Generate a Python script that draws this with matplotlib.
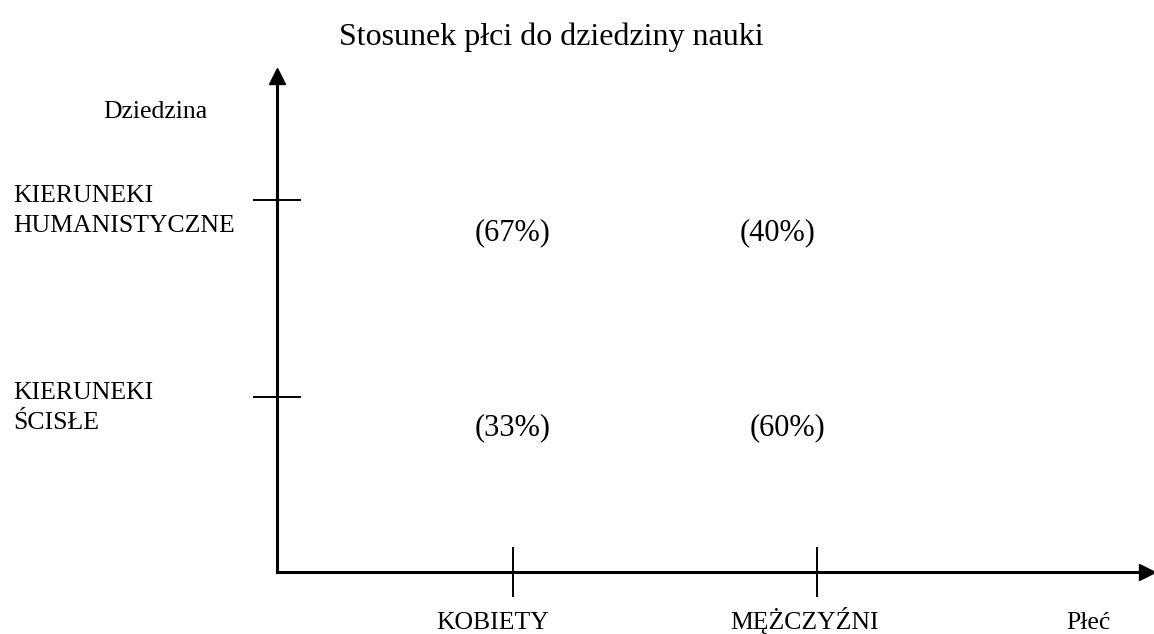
import matplotlib
matplotlib.use("Agg")
import matplotlib.pyplot as plt

# dane
gender = ["KOBIETY", "MĘŻCZYŹNI"]
fields = ["KIERUNEKI\nŚCISŁE", "KIERUNEKI\nHUMANISTYCZNE"]
pct_scisle = [33, 60]
pct_human = [67, 40]

title = "Stosunek płci do dziedziny nauki"
x_name = "Płeć"
y_name = "Dziedzina"

plt.rcParams['font.family'] = ['Liberation Serif', 'DejaVu Serif']

fig = plt.figure(figsize=(11.54, 6.34), dpi=100)
ax = fig.add_axes([0.2400, 0.0978, 0.9939 - 0.2400, 0.8801 - 0.0978])

ax.set_xlim(-0.7763, 2.0855)
ax.set_ylim(-0.8883, 1.6294)

for side in ["top", "right"]:
    ax.spines[side].set_visible(False)
for side in ["left", "bottom"]:
    ax.spines[side].set_linewidth(2.2)

# strzałki na końcach osi
ax.plot([0], [1], marker="^", markersize=11, color="black",
        transform=ax.transAxes, clip_on=False)
ax.plot([1], [0], marker=">", markersize=11, color="black",
        transform=ax.transAxes, clip_on=False)

ax.set_xticks(range(len(gender)))
ax.set_yticks(range(len(fields)))
ax.set_xticklabels([])
ax.set_yticklabels([])
ax.tick_params(axis="x", direction="inout", length=36, width=1.4)
ax.tick_params(axis="y", direction="inout", length=34, width=1.4)

# etykiety kategorii
x_offsets = [-20, -12]
for i, g in enumerate(gender):
    ax.annotate(g, xy=(i, 0), xycoords=("data", "axes fraction"),
                xytext=(x_offsets[i], -57), textcoords="offset pixels",
                ha="center", va="baseline", fontsize=18.5)

for j, f in enumerate(fields):
    ax.annotate(f, xy=(13 / 1154, j), xycoords=("figure fraction", "data"),
                xytext=(0, -11), textcoords="offset pixels",
                ha="left", va="center", fontsize=18.5, linespacing=1.5)

# wartości procentowe
rows = [pct_scisle, pct_human]
offsets = {(0, 0): (0, -31), (1, 0): (-29, -31),
           (0, 1): (0, -33), (1, 1): (-39, -33)}
for j, row in enumerate(rows):
    for i, v in enumerate(row):
        dx, dy = offsets[(i, j)]
        ax.annotate(f"({v}%)", xy=(i, j), xytext=(dx, dy),
                    textcoords="offset pixels", ha="center", va="center",
                    fontsize=22)

ax.annotate(x_name, xy=(0.933, 0), xycoords="axes fraction",
            xytext=(0, -57), textcoords="offset pixels",
            ha="center", va="baseline", fontsize=18.5)
fig.text(155 / 1154, 1 - 112 / 634, y_name, ha="center", va="center",
         fontsize=18.5)

fig.text(551 / 1154, 1 - 37 / 634, title, ha="center", va="center",
         fontsize=23)

fig.savefig("out.png", dpi=100, facecolor="white")
